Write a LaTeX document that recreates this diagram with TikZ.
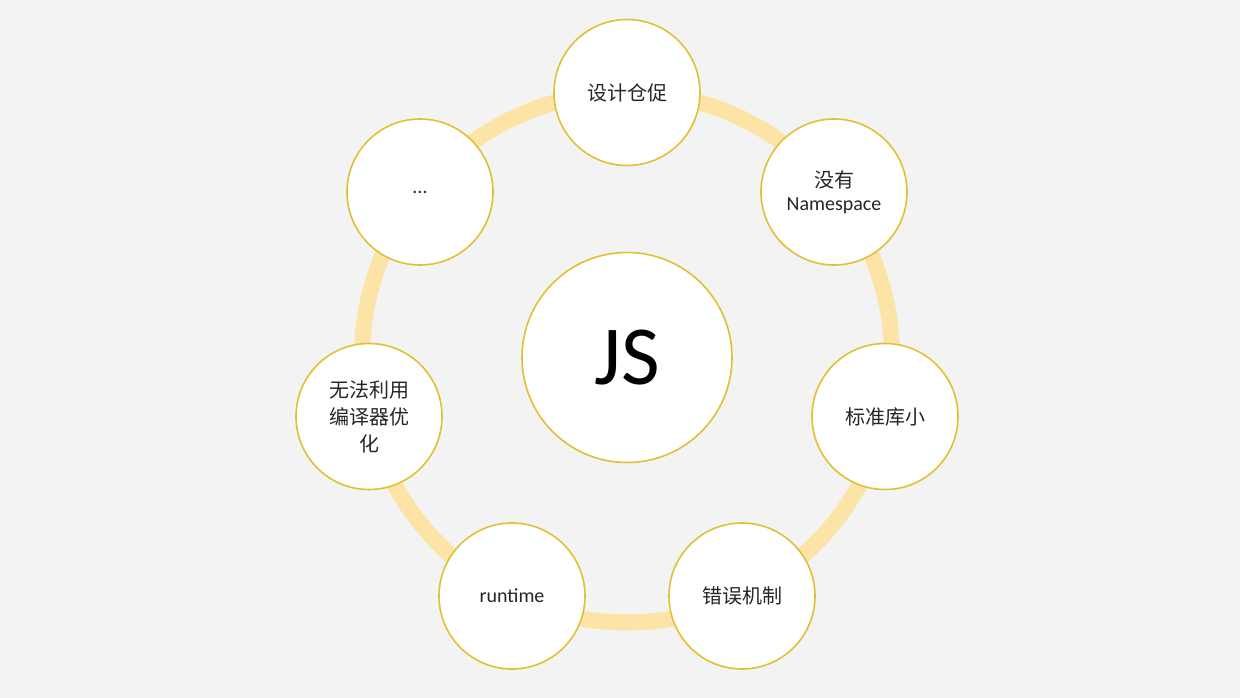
\documentclass[tikz,border=0pt]{standalone}
\usepackage{fontspec}
\setmainfont{Carlito}
\newfontfamily\cjk{Noto Sans CJK SC}
\definecolor{bgc}{HTML}{F3F3F3}
\definecolor{ringc}{HTML}{FCE3A6}
\definecolor{edgec}{HTML}{E0C035}
\begin{document}
\begin{tikzpicture}[x=1pt,y=-1pt,
  bubble/.style={circle,draw=edgec,line width=1.6pt,fill=white,minimum size=146pt,inner sep=0pt,align=center,text=black!85,font=\fontsize{20}{24}\selectfont},
  ringline/.style={draw=ringc,line width=16pt}]
\fill[bgc] (0,0) rectangle (1240,698);
\useasboundingbox (0,0) rectangle (1240,698);
\coordinate (ctr) at (627,357.5);
\draw[ringline] (ctr) circle (265pt);
\node[bubble,minimum size=210pt,font=\fontsize{84}{90}\selectfont,text=black] (js) at (ctr) {JS};
\node[bubble] (n0) at (627,92.5) {\cjk 设计仓促};
\node[bubble,font=\fontsize{20}{23}\selectfont] (n1) at (834,192) {{\cjk 没有}\\Namespace};
\node[bubble] (n2) at (885,416.5) {\cjk 标准库小};
\node[bubble] (n3) at (742,596) {\cjk 错误机制};
\node[bubble] (n4) at (512,596) {runtime};
\node[bubble,font=\fontsize{20}{27}\selectfont] (n5) at (369,416.5) {\cjk 无法利用\\\cjk 编译器优\\\cjk 化};
\node[bubble] (n6) at (420,192) {...};
\end{tikzpicture}
\end{document}
